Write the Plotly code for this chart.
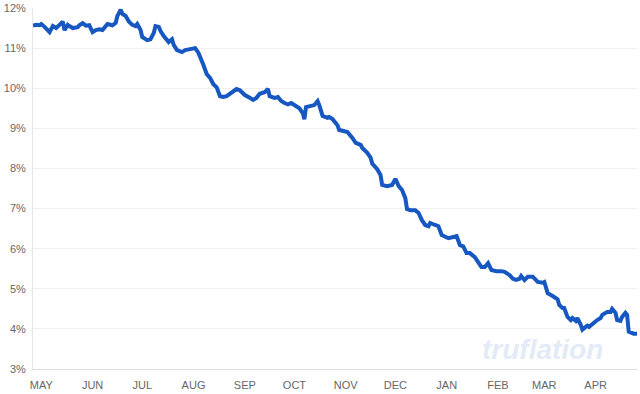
import pandas as pd
import plotly.graph_objects as go

start_date = "2022-04-26"
end_date = "2023-04-26"

day_offsets = [0, 2, 4, 5, 7, 9, 10, 12, 14, 16, 18, 19, 21, 22, 24, 27, 28, 30, 32, 34,
               36, 38, 40, 42, 45, 48, 50, 51, 53, 54, 56, 58, 60, 62, 63, 65, 66, 69, 71, 73,
               74, 76, 77, 79, 81, 82, 84, 85, 87, 90, 92, 95, 98, 100, 102, 103, 105, 107, 109, 111,
               113, 115, 117, 120, 123, 125, 128, 131, 133, 135, 137, 140, 142, 143, 146, 148, 150, 152, 154, 156,
               158, 161, 163, 164, 165, 167, 170, 172, 173, 175, 178, 179, 181, 184, 185, 187, 190, 193, 195, 198,
               199, 202, 204, 205, 208, 210, 211, 214, 217, 219, 221, 223, 225, 226, 228, 231, 233, 235, 237, 239,
               240, 243, 245, 247, 249, 251, 254, 256, 258, 260, 262, 264, 267, 269, 271, 273, 275, 277, 280, 283,
               285, 288, 290, 292, 294, 295, 297, 299, 302, 305, 308, 309, 310, 311, 314, 317, 318, 320, 321, 323,
               325, 326, 328, 329, 331, 332, 334, 335, 336, 338, 341, 343, 344, 347, 349, 350, 352, 353, 355, 356,
               358, 359, 360, 363, 365]

inflation = [11.56, 11.58, 11.57, 11.60, 11.53, 11.45, 11.40, 11.55, 11.50, 11.58, 11.66, 11.45, 11.58, 11.55, 11.50, 11.52, 11.57, 11.62, 11.56, 11.57,
             11.40, 11.45, 11.47, 11.45, 11.60, 11.57, 11.63, 11.80, 11.96, 11.85, 11.80, 11.66, 11.58, 11.55, 11.60, 11.45, 11.28, 11.20, 11.22, 11.38,
             11.55, 11.53, 11.43, 11.30, 11.18, 11.15, 11.22, 11.08, 10.95, 10.90, 10.95, 10.98, 11.00, 10.88, 10.70, 10.58, 10.35, 10.26, 10.10, 10.02,
             9.80, 9.78, 9.80, 9.90, 9.98, 9.95, 9.83, 9.76, 9.71, 9.76, 9.86, 9.90, 9.98, 9.80, 9.76, 9.78, 9.68, 9.63, 9.60, 9.63,
             9.58, 9.50, 9.38, 9.23, 9.53, 9.55, 9.58, 9.68, 9.58, 9.31, 9.26, 9.28, 9.23, 9.08, 8.96, 8.94, 8.91, 8.76, 8.64, 8.59,
             8.51, 8.39, 8.27, 8.12, 7.98, 7.84, 7.59, 7.56, 7.59, 7.74, 7.56, 7.46, 7.26, 6.99, 6.96, 6.96, 6.89, 6.71, 6.59, 6.56,
             6.64, 6.59, 6.56, 6.34, 6.31, 6.26, 6.29, 6.31, 6.09, 6.06, 5.89, 5.89, 5.79, 5.67, 5.54, 5.54, 5.64, 5.47, 5.44, 5.44,
             5.42, 5.34, 5.25, 5.22, 5.25, 5.32, 5.22, 5.30, 5.30, 5.17, 5.15, 5.17, 5.02, 4.89, 4.82, 4.74, 4.60, 4.52, 4.52, 4.30,
             4.22, 4.27, 4.20, 4.27, 4.10, 3.98, 4.05, 4.08, 4.05, 4.13, 4.22, 4.27, 4.35, 4.42, 4.42, 4.50, 4.40, 4.22, 4.20, 4.30,
             4.40, 4.35, 3.93, 3.88, 3.88]

month_ticks = ["2022-05-01", "2022-06-01", "2022-07-01", "2022-08-01", "2022-09-01", "2022-10-01",
               "2022-11-01", "2022-12-01", "2023-01-01", "2023-02-01", "2023-03-01", "2023-04-01"]
month_labels = ["MAY", "JUN", "JUL", "AUG", "SEP", "OCT", "NOV", "DEC", "JAN", "FEB", "MAR", "APR"]

y_ticks = [3, 4, 5, 6, 7, 8, 9, 10, 11, 12]
y_labels = [f"{v}%" for v in y_ticks]

dates = pd.to_datetime(start_date) + pd.to_timedelta(day_offsets, unit="D")

fig = go.Figure()
fig.add_trace(go.Scatter(
    x=dates, y=inflation, mode="lines",
    line=dict(color="#1757c2", width=4, shape="linear"),
    hoverinfo="skip", showlegend=False,
))

fig.add_annotation(
    text="<b><i>truflation</i></b>", xref="paper", yref="paper",
    x=0.844, y=0.053, xanchor="center", yanchor="middle", showarrow=False,
    font=dict(family="Liberation Sans, Arial, sans-serif", size=28, color="#e3ebf7"),
)

fig.update_layout(
    width=640, height=394,
    margin=dict(l=33, r=3, t=8, b=25),
    paper_bgcolor="white", plot_bgcolor="white",
    font=dict(family="Liberation Sans, Arial, sans-serif", size=11, color="#666666"),
    xaxis=dict(
        range=[start_date, end_date],
        tickvals=month_ticks, ticktext=month_labels,
        showgrid=False, zeroline=False,
        showline=True, linecolor="#e0e0e0", linewidth=1,
        ticks="", ticklabelstandoff=6,
        tickfont=dict(size=11, color="#666666"),
        fixedrange=True,
    ),
    yaxis=dict(
        range=[3, 12],
        tickvals=y_ticks, ticktext=y_labels,
        showgrid=True, gridcolor="#f0f0f0", gridwidth=1,
        zeroline=False,
        showline=True, linecolor="#e6e6e6", linewidth=1,
        ticks="", ticklabelstandoff=4,
        tickfont=dict(size=11, color="#666666"),
        fixedrange=True,
    ),
)

fig.write_html("out.html", config={"displayModeBar": False})

with open("out.html", "r", encoding="utf-8") as f:
    html = f.read()
html = html.replace("<head>", "<head><style>html,body{margin:0;padding:0;overflow:hidden;}</style>", 1)
with open("out.html", "w", encoding="utf-8") as f:
    f.write(html)
